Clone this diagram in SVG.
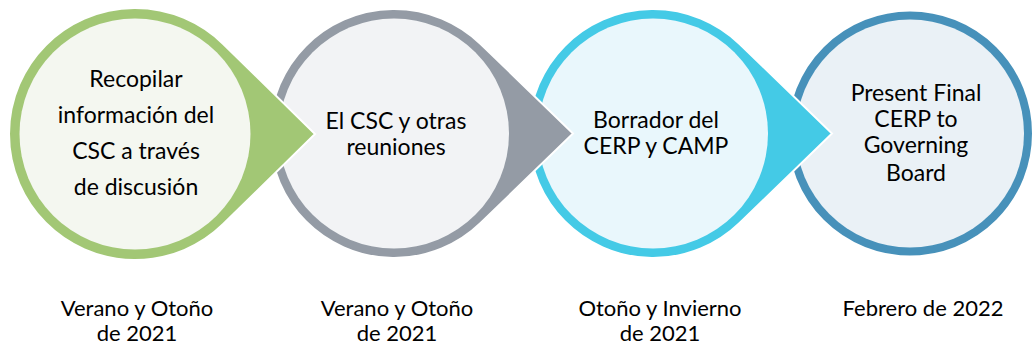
<svg xmlns="http://www.w3.org/2000/svg" width="1035" height="346" viewBox="0 0 1035 346">
<style>
.lbl{font-family:Lato,"Open Sans","Liberation Sans",sans-serif;font-size:23px;fill:#000;text-anchor:middle}
.date{font-family:Lato,"Open Sans","Liberation Sans",sans-serif;font-size:22px;fill:#000;text-anchor:middle}
.outer{stroke:#fff;stroke-width:2}
</style>
<rect width="1035" height="346" fill="#fff"/>
<g id="node4">
<circle cx="910" cy="133.5" r="123" fill="#4791BA" class="outer"/>
<circle cx="910" cy="133.5" r="114" fill="#EAF1F6"/>
<text class="lbl"><tspan x="916" y="101">Present Final</tspan><tspan x="916" y="127">CERP to</tspan><tspan x="916" y="153">Governing</tspan><tspan x="916" y="181">Board</tspan></text>
</g>
<g id="node3">
<path d="M739.6,44 L832,133.5 L739.6,223 A124.5,124.5 0 1 1 739.6,44 Z" fill="#44CAE6" class="outer"/>
<circle cx="653" cy="133.5" r="115" fill="#E9F7FC"/>
<text class="lbl"><tspan x="656" y="128">Borrador del</tspan><tspan x="656" y="154">CERP y CAMP</tspan></text>
</g>
<g id="node2">
<path d="M480.6,44 L573,133.5 L480.6,223 A124.5,124.5 0 1 1 480.6,44 Z" fill="#949BA5" class="outer"/>
<circle cx="394" cy="133.5" r="115" fill="#F2F3F5"/>
<text class="lbl"><tspan x="396" y="129">El CSC y otras</tspan><tspan x="396" y="155">reuniones</tspan></text>
</g>
<g id="node1">
<path d="M223.2,44 L315,134 L223.2,224 A126,126 0 1 1 223.2,44 Z" fill="#A2C775" class="outer"/>
<circle cx="135" cy="134" r="115.5" fill="#F4F7F0"/>
<text class="lbl"><tspan x="136" y="87">Recopilar</tspan><tspan x="136" y="123">información del</tspan><tspan x="136" y="159">CSC a través</tspan><tspan x="136" y="195">de discusión</tspan></text>
</g>
<g id="dates">
<text class="date"><tspan x="137" y="316">Verano y Otoño</tspan><tspan x="137" y="341">de 2021</tspan></text>
<text class="date"><tspan x="397" y="316">Verano y Otoño</tspan><tspan x="397" y="341">de 2021</tspan></text>
<text class="date"><tspan x="660" y="316">Otoño y Invierno</tspan><tspan x="660" y="341">de 2021</tspan></text>
<text class="date"><tspan x="923" y="316">Febrero de 2022</tspan></text>
</g>
</svg>
